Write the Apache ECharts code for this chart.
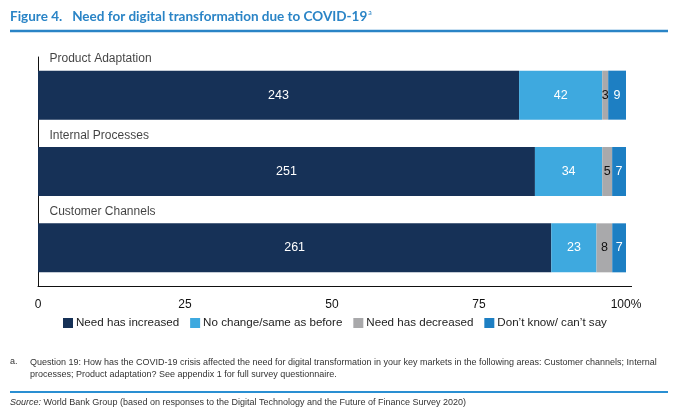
<!DOCTYPE html>
<html>
<head>
<meta charset="utf-8">
<script src="https://cdn.jsdelivr.net/npm/echarts@6/dist/echarts.min.js"></script>
<style>
  html, body { margin: 0; padding: 0; background: #fff; }
  #main { width: 680px; height: 416px; }
</style>
</head>
<body>
<div id="main"></div>
<script>
// data (counts of respondents)
var categories = ['Product Adaptation', 'Internal Processes', 'Customer Channels'];
var increased = [243, 251, 261];
var noChange = [42, 34, 23];
var decreased = [3, 5, 8];
var dontKnow = [9, 7, 7];
var seriesNames = ['Need has increased', 'No change/same as before', 'Need has decreased', 'Don\u2019t know/ can\u2019t say'];
var xTicks = [0, 25, 50, 75, 100];

(function () {
    var myChart = echarts.init(document.getElementById('main'));

    var all = [increased, noChange, decreased, dontKnow];
    var colors = ['#163157', '#3ea9df', '#a9a9ab', '#1d7fc3'];
    var labelColors = ['#fff', '#fff', '#111', '#fff'];
    var font = 'Liberation Sans, Arial, sans-serif';

    // row totals, bars are shown as share of total
    var totals = categories.map(function (c, i) {
        return all.reduce(function (s, arr) { return s + arr[i]; }, 0);
    });

    var series = all.map(function (arr, k) {
        return {
            name: seriesNames[k],
            type: 'bar',
            stack: 'total',
            barWidth: 49,
            itemStyle: { color: colors[k] },
            label: {
                show: true,
                position: 'inside',
                color: labelColors[k],
                fontFamily: font,
                fontSize: 12.5,
                formatter: function (p) { return p.data.count; }
            },
            data: arr.map(function (v, i) {
                return { value: v / totals[i] * 100, count: v };
            })
        };
    });

    // category names sit above each bar, at the left edge
    series.push({
        name: 'catLabels',
        type: 'scatter',
        symbolSize: 1,
        itemStyle: { color: 'rgba(0,0,0,0)' },
        silent: true,
        label: {
            show: true,
            position: 'right',
            distance: 0,
            offset: [11, -36],
            fontFamily: font,
            fontSize: 12,
            color: '#111',
            formatter: function (p) { return p.name; }
        },
        data: categories.map(function (c) { return { name: c, value: [0, c] }; })
    });

    var option = {
        backgroundColor: '#fff',
        animation: false,
        color: colors,
        title: [
            {
                text: '{b|Figure 4.}  {b|Need for digital transformation due to COVID-19}{s|a}',
                left: 10,
                top: 8,
                padding: 0,
                textStyle: {
                    rich: {
                        b: { fontFamily: 'Lato', fontWeight: 'bold', fontSize: 13.5, color: '#2a84c6' },
                        s: { fontFamily: 'Lato', fontWeight: 'normal', fontSize: 7, color: '#2a84c6', padding: [0, 0, 8, 1] }
                    }
                }
            },
            {
                text: 'a.',
                left: 10,
                top: 357,
                padding: 0,
                textStyle: { fontFamily: font, fontSize: 9, fontWeight: 'normal', color: '#333' }
            },
            {
                text: 'Question 19: How has the COVID-19 crisis affected the need for digital transformation in your key markets in the following areas: Customer channels; Internal\nprocesses; Product adaptation? See appendix 1 for full survey questionnaire.',
                left: 30,
                top: 357,
                padding: 0,
                textStyle: { fontFamily: font, fontSize: 9, fontWeight: 'normal', color: '#333', lineHeight: 12 }
            },
            {
                text: '{i|Source:}{n| World Bank Group (based on responses to the Digital Technology and the Future of Finance Survey 2020)}',
                left: 10,
                top: 398,
                padding: 0,
                textStyle: {
                    fontWeight: 'normal',
                    rich: {
                        i: { fontFamily: font, fontSize: 9, fontWeight: 'normal', fontStyle: 'italic', color: '#333' },
                        n: { fontFamily: font, fontSize: 9, fontWeight: 'normal', color: '#333' }
                    }
                }
            }
        ],
        legend: {
            data: seriesNames,
            left: 58,
            top: 312,
            icon: 'rect',
            itemWidth: 10,
            itemHeight: 10,
            itemGap: 11,
            textStyle: { fontFamily: font, fontSize: 11.6, color: '#222', padding: [0, 0, 0, -2] }
        },
        grid: {
            left: 38,
            right: 54,
            top: 57,
            bottom: 130
        },
        xAxis: {
            type: 'value',
            min: 0,
            max: 100,
            interval: 25,
            splitLine: { show: false },
            axisTick: { show: false },
            axisLine: { show: true, lineStyle: { color: '#111', width: 1 } },
            axisLabel: {
                margin: 13,
                fontFamily: font,
                fontSize: 12,
                color: '#111',
                formatter: function (v) {
                    if (xTicks.indexOf(v) < 0) return '';
                    return v === 100 ? '100%' : String(v);
                }
            }
        },
        yAxis: {
            type: 'category',
            inverse: true,
            data: categories,
            axisTick: { show: false },
            axisLine: { show: true, lineStyle: { color: '#111', width: 1 } },
            axisLabel: { show: false }
        },
        graphic: [
            // rule under the title
            { type: 'line', shape: { x1: 10, y1: 31, x2: 668, y2: 31 }, style: { stroke: '#2a84c6', lineWidth: 2.5 } },
            // small overhang of the x axis line past 100%
            { type: 'line', shape: { x1: 626, y1: 286.5, x2: 632, y2: 286.5 }, style: { stroke: '#111', lineWidth: 1 } },
            // rule above the source line
            { type: 'line', shape: { x1: 10, y1: 392, x2: 668, y2: 392 }, style: { stroke: '#2a8fd2', lineWidth: 2 } }
        ],
        series: series
    };

    myChart.setOption(option);
})();
</script>
</body>
</html>
